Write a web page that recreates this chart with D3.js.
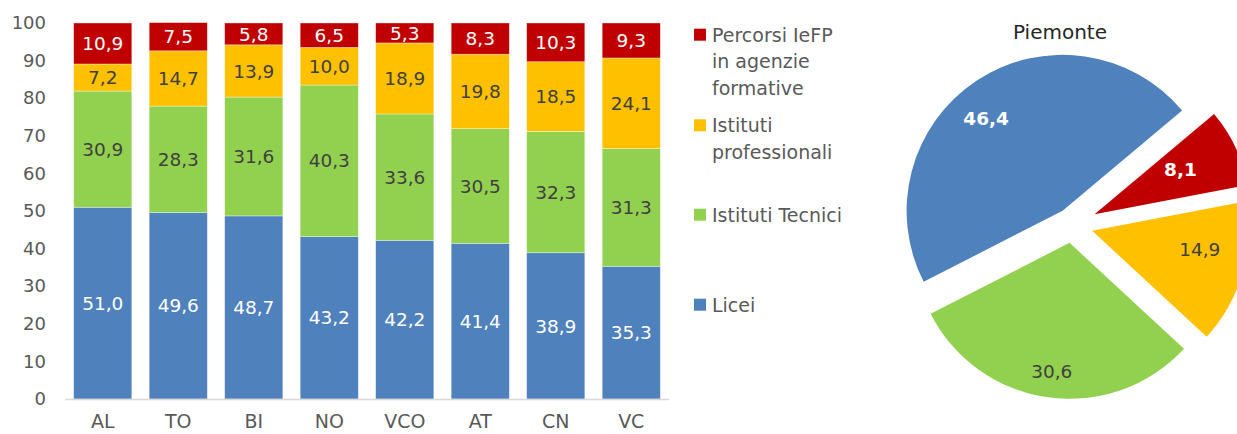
<!DOCTYPE html>
<html>
<head>
<meta charset="utf-8">
<script src="https://cdn.jsdelivr.net/npm/d3@7"></script>
<style>
  body { margin: 0; background: #fff; }
  text { font-family: "DejaVu Sans", sans-serif; }
</style>
</head>
<body>
<div id="chart"></div>
<script>
// province (bar categories)
const regions = ['AL', 'TO', 'BI', 'NO', 'VCO', 'AT', 'CN', 'VC'];
// series values, % of students
const licei = [51.0, 49.6, 48.7, 43.2, 42.2, 41.4, 38.9, 35.3];
const tecnici = [30.9, 28.3, 31.6, 40.3, 33.6, 30.5, 32.3, 31.3];
const professionali = [7.2, 14.7, 13.9, 10.0, 18.9, 19.8, 18.5, 24.1];
const percorsi = [10.9, 7.5, 5.8, 6.5, 5.3, 8.3, 10.3, 9.3];
const yTicks = [0, 10, 20, 30, 40, 50, 60, 70, 80, 90, 100];

// Piemonte pie
const pieTitle = 'Piemonte';
const pieKeys = ['percorsi', 'professionali', 'tecnici', 'licei'];
const pieValues = [8.1, 14.9, 30.6, 46.4];

const seriesKeys = ['licei', 'tecnici', 'professionali', 'percorsi'];
const legendLabels = {
  percorsi: ['Percorsi IeFP', 'in agenzie', 'formative'],
  professionali: ['Istituti', 'professionali'],
  tecnici: ['Istituti Tecnici'],
  licei: ['Licei']
};

const colors = { licei: '#4F81BD', tecnici: '#92D050', professionali: '#FFC000', percorsi: '#C00000' };
const labelColors = { licei: '#ffffff', tecnici: '#404040', professionali: '#404040', percorsi: '#ffffff' };

const w = 1237;
const h = 434;

const it = d3.formatLocale({ decimal: ',', thousands: '.', grouping: [3], currency: ['', '€'] });
const fmt = it.format('.1f');

const rows = regions.map((r, i) => ({
  region: r, licei: licei[i], tecnici: tecnici[i], professionali: professionali[i], percorsi: percorsi[i]
}));

const svg = d3.select('#chart')
  .append('svg')
  .attr('width', w)
  .attr('height', h);

// ---- stacked bars
const xScale = d3.scaleBand()
  .domain(regions)
  .range([65, 669])
  .paddingInner(0.23)
  .paddingOuter(0.115);

const yScale = d3.scaleLinear()
  .domain([0, 100])
  .range([399, 23]);

const stacked = d3.stack().keys(seriesKeys)(rows);

const yAxis = d3.axisLeft(yScale)
  .tickValues(yTicks)
  .tickSize(0)
  .tickPadding(0);

const yg = svg.append('g')
  .attr('transform', 'translate(46,0)')
  .call(yAxis);
yg.select('.domain').remove();
yg.selectAll('text')
  .attr('fill', '#595959')
  .style('font-size', '18px')
  .style('font-family', '"DejaVu Sans", sans-serif');

const layers = svg.selectAll('g.layer')
  .data(stacked)
  .enter()
  .append('g')
  .attr('class', 'layer')
  .attr('fill', (d) => colors[d.key]);

layers.selectAll('rect')
  .data((d) => d)
  .enter()
  .append('rect')
  .attr('x', (d) => xScale(d.data.region))
  .attr('y', (d) => yScale(d[1]))
  .attr('width', xScale.bandwidth())
  .attr('height', (d) => yScale(d[0]) - yScale(d[1]))
  .attr('stroke', 'rgba(255,255,255,0.5)')
  .attr('stroke-width', 0.7);

layers.each(function (layer) {
  d3.select(this).selectAll('text')
    .data(layer)
    .enter()
    .append('text')
    .attr('x', (d) => xScale(d.data.region) + xScale.bandwidth() / 2)
    .attr('y', (d) => yScale((d[0] + d[1]) / 2))
    .attr('dy', '0.36em')
    .attr('text-anchor', 'middle')
    .attr('fill', labelColors[layer.key])
    .style('font-size', '18.5px')
    .text((d) => fmt(d.data[layer.key]));
});

// baseline
svg.append('line')
  .attr('x1', 65)
  .attr('x2', 669)
  .attr('y1', yScale(0) + 0.5)
  .attr('y2', yScale(0) + 0.5)
  .attr('stroke', '#D9D9D9')
  .attr('stroke-width', 1.5);

const xAxis = d3.axisBottom(xScale).tickSize(0).tickPadding(0);
const xg = svg.append('g')
  .attr('transform', 'translate(0,415)')
  .call(xAxis);
xg.select('.domain').remove();
xg.selectAll('text')
  .attr('dy', '0.7em')
  .attr('fill', '#595959')
  .style('font-size', '19px')
  .style('font-family', '"DejaVu Sans", sans-serif');

// ---- legend
const legendOrder = ['percorsi', 'professionali', 'tecnici', 'licei'];
const legendY = [41.7, 132.3, 221.7, 311.7];
const legend = svg.append('g').attr('id', 'legend');

legendOrder.forEach((key, i) => {
  legend.append('rect')
    .attr('x', 694)
    .attr('y', legendY[i] - 13)
    .attr('width', 12)
    .attr('height', 12)
    .attr('fill', colors[key]);
  legend.append('text')
    .attr('fill', '#595959')
    .style('font-size', '19px')
    .selectAll('tspan')
    .data(legendLabels[key])
    .enter()
    .append('tspan')
    .attr('x', 712)
    .attr('y', (d, j) => legendY[i] + j * 26.6)
    .text((d) => d);
});

// ---- pie
const cx = 1072;
const cy = 225;
const radius = 156;
const explode = [25, 21, 18, 17];
const labelPos = [[0.62, -2], [0.70, -6], [0.83, 0], [0.77, -6]];
const bold = [true, false, false, true];

svg.append('text')
  .attr('x', 1060)
  .attr('y', 39)
  .attr('text-anchor', 'middle')
  .attr('fill', '#262626')
  .style('font-size', '20px')
  .text(pieTitle);

const start = 50 * Math.PI / 180;
const pie = d3.pie().sort(null).startAngle(start).endAngle(start + 2 * Math.PI);
const arcs = pie(pieValues);
const arc = d3.arc().innerRadius(0).outerRadius(radius);

const slices = svg.selectAll('g.slice')
  .data(arcs)
  .enter()
  .append('g')
  .attr('class', 'slice')
  .attr('transform', (d, i) => {
    const mid = (d.startAngle + d.endAngle) / 2;
    return `translate(${cx + Math.sin(mid) * explode[i]},${cy - Math.cos(mid) * explode[i]})`;
  });

slices.append('path')
  .attr('d', arc)
  .attr('fill', (d, i) => colors[pieKeys[i]]);

slices.append('text')
  .attr('x', (d, i) => {
    const a = (d.startAngle + d.endAngle) / 2 + labelPos[i][1] * Math.PI / 180;
    return Math.sin(a) * radius * labelPos[i][0];
  })
  .attr('y', (d, i) => {
    const a = (d.startAngle + d.endAngle) / 2 + labelPos[i][1] * Math.PI / 180;
    return -Math.cos(a) * radius * labelPos[i][0];
  })
  .attr('dy', '0.36em')
  .attr('text-anchor', 'middle')
  .attr('fill', (d, i) => labelColors[pieKeys[i]])
  .style('font-size', '18.5px')
  .style('font-weight', (d, i) => bold[i] ? 'bold' : 'normal')
  .text((d) => fmt(d.data));
</script>
</body>
</html>
